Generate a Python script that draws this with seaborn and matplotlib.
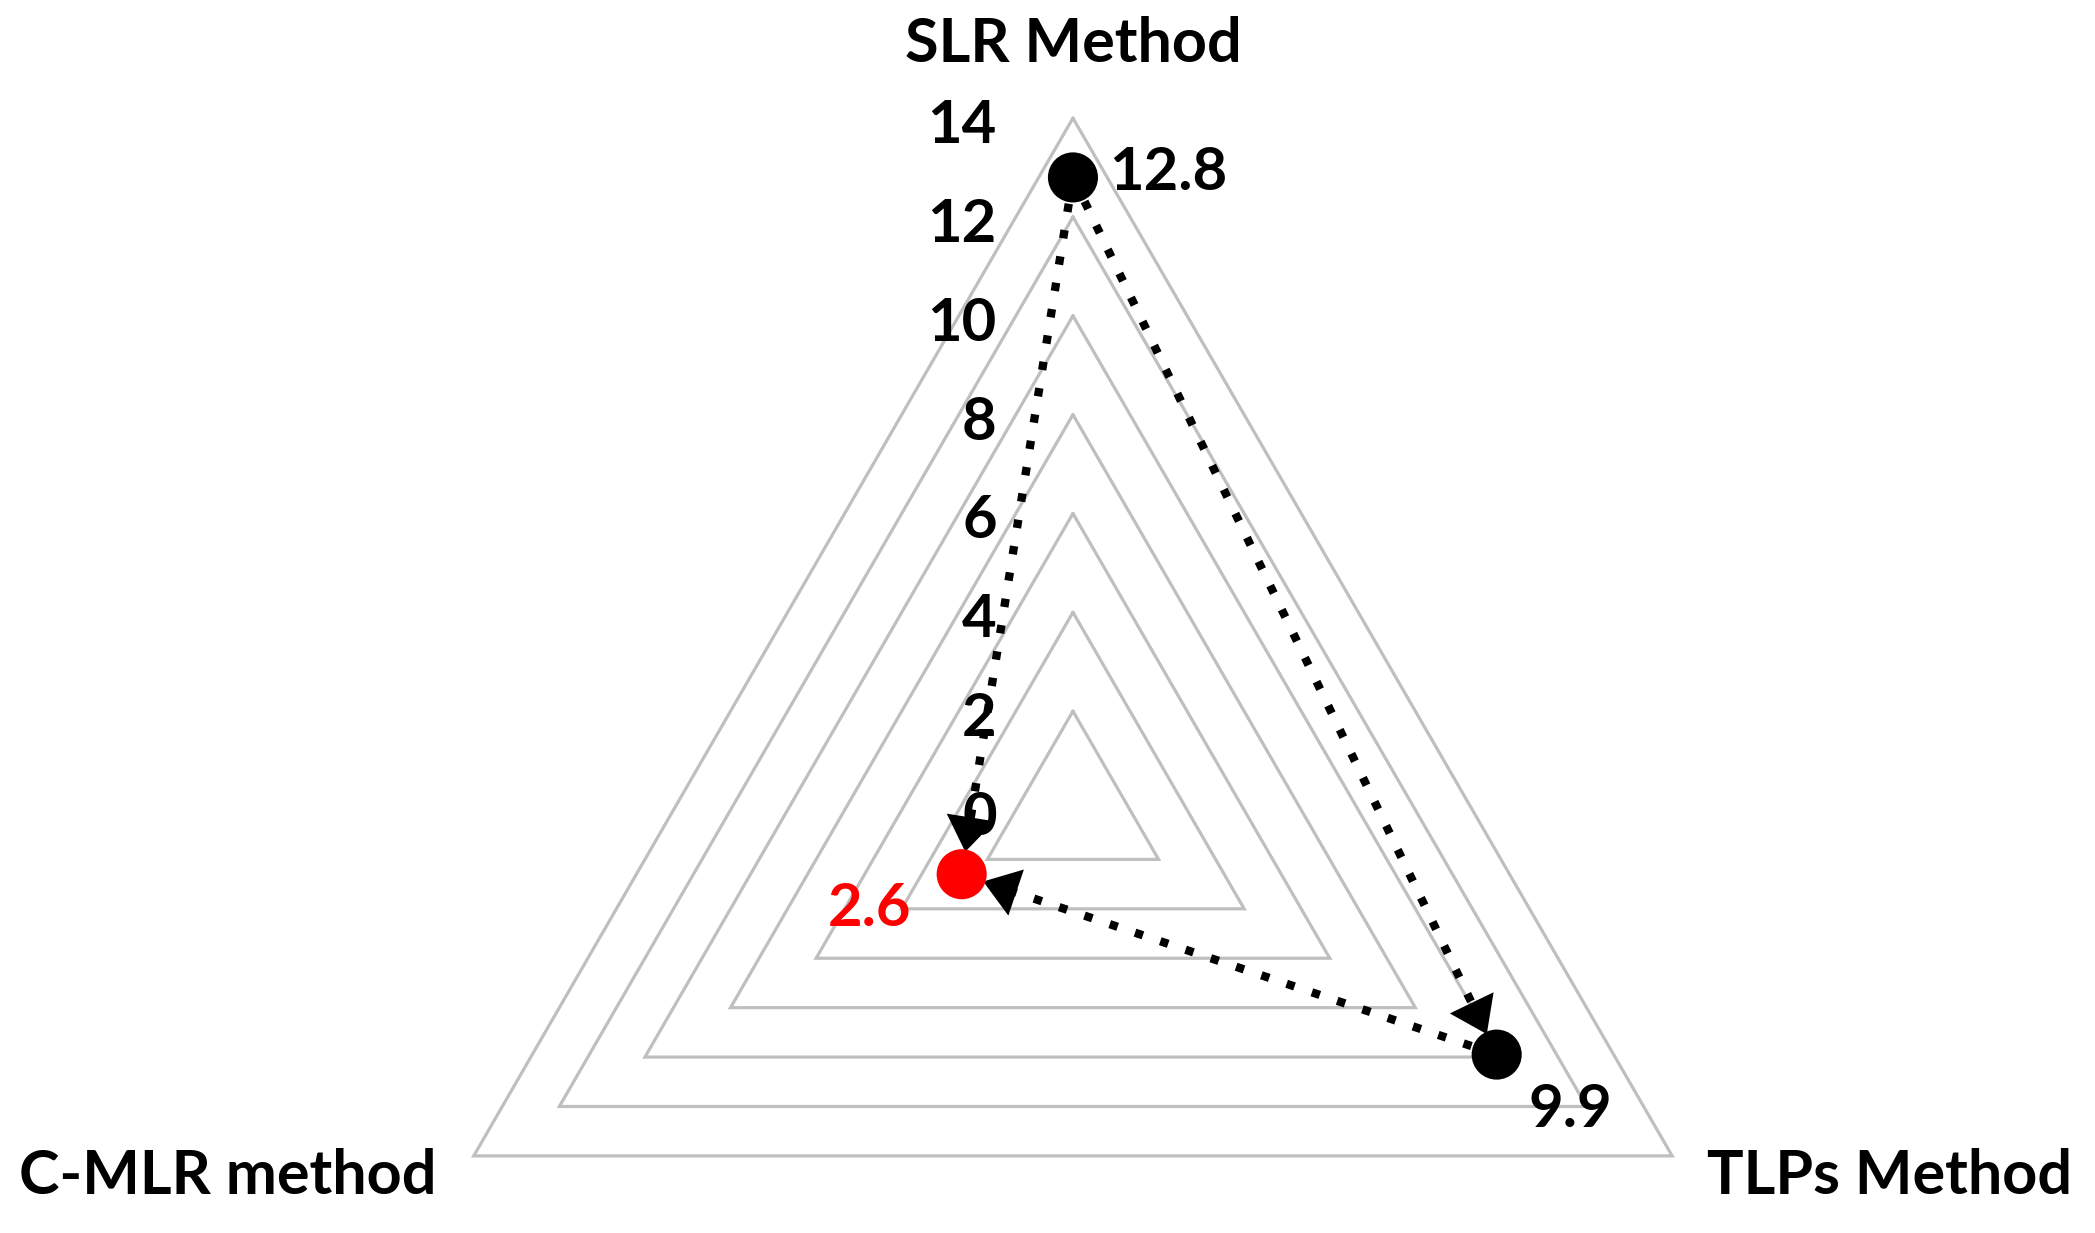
import numpy as np
import pandas as pd
import seaborn as sns
import matplotlib.pyplot as plt

# chart data
methods = ["SLR Method", "TLPs Method", "C-MLR method"]
values = [12.8, 9.9, 2.6]
value_labels = ["12.8", "9.9", "2.6"]
point_colors = ["black", "black", "red"]
ring_levels = [2, 4, 6, 8, 10, 12, 14]
tick_levels = [0, 2, 4, 6, 8, 10, 12, 14]
tick_labels = ["0", "2", "4", "6", "8", "10", "12", "14"]
# arrows drawn between methods (from, to)
arrow_pairs = [(0, 2), (1, 2), (0, 1)]

sns.set_style("white")
plt.rcParams['font.family'] = ['Lato', 'DejaVu Sans']

angles = np.deg2rad([90, -30, 210])


def to_xy(r, a):
    return r * np.cos(a), r * np.sin(a)


fig = plt.figure(figsize=(20.95, 12.33), dpi=100)
ax = fig.add_axes([0, 0, 1, 1])
ax.set_xlim(-21.71, 20.68)
ax.set_ylim(-8.56, 16.39)
ax.axis("off")

# triangular grid
for lev in ring_levels:
    xs, ys = to_xy(lev, np.append(angles, angles[0]))
    ax.plot(xs, ys, color="#BFBFBF", lw=2.3, zorder=1, solid_joinstyle="miter")

# value axis labels
for lev, lab in zip(tick_levels, tick_labels):
    ax.text(-1.54, lev - 0.16, lab, ha="right", va="center",
            fontsize=43, fontweight="bold", color="black", zorder=2)

px = np.array([to_xy(v, a) for v, a in zip(values, angles)])
pts = pd.DataFrame({"x": px[:, 0], "y": px[:, 1], "method": methods})

# dotted connectors with arrow heads
marker_r = 0.46
for i, j in arrow_pairs:
    p0, p1 = px[i], px[j]
    d = (p1 - p0) / np.linalg.norm(p1 - p0)
    tip = p1 - d * marker_r
    ax.plot([p0[0], tip[0] - d[0] * 0.5], [p0[1], tip[1] - d[1] * 0.5],
            color="black", lw=6, linestyle=(0, (1, 2.2)), zorder=3)
    ax.annotate("", xy=tip, xytext=tip - d * 0.7,
                arrowprops=dict(arrowstyle="-|>,head_length=1.0,head_width=0.7",
                                mutation_scale=25, color="black", lw=0,
                                shrinkA=0, shrinkB=0), zorder=4)

sns.scatterplot(data=pts, x="x", y="y", hue="method",
                palette=dict(zip(methods, point_colors)), s=1300,
                edgecolor="none", legend=False, ax=ax, zorder=5)

# value labels
offsets = [(26, 3), (53, -40), (-36, -25)]
aligns = ["left", "center", "right"]
for (x, y), lab, c, off, ha in zip(px, value_labels, point_colors, offsets, aligns):
    ax.annotate(lab, (x, y), xytext=off, textcoords="offset points",
                ha=ha, va="center", fontsize=43, fontweight="bold", color=c, zorder=6)

# category labels
label_pos = [(0, 15.5), (16.53, -7.40), (-17.1, -7.40)]
for (x, y), name in zip(label_pos, methods):
    ax.text(x, y, name, ha="center", va="center", fontsize=44,
            fontweight="bold", color="black")

ax.set_xlim(-21.71, 20.68)
ax.set_ylim(-8.56, 16.39)
fig.savefig("out.png", dpi=100, facecolor="white")
